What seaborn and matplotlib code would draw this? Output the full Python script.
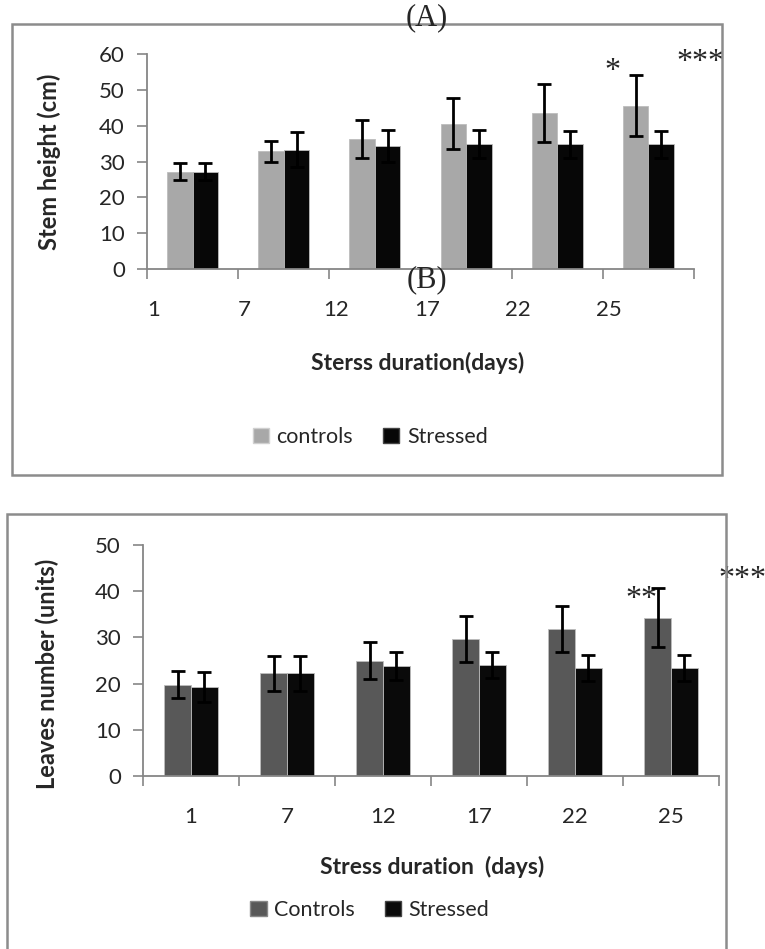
import matplotlib
matplotlib.use("Agg")
import matplotlib.pyplot as plt
from matplotlib.patches import Rectangle, Patch
import pandas as pd
import seaborn as sns

days = ["1", "7", "12", "17", "22", "25"]

# panel A: stem height (cm)
stem_controls = [27.2, 32.8, 36.4, 40.6, 43.6, 45.6]
stem_controls_err = [2.5, 3.0, 5.3, 7.2, 8.1, 8.5]
stem_stressed = [27.2, 33.3, 34.3, 34.8, 34.8, 34.8]
stem_stressed_err = [2.3, 4.9, 4.4, 3.9, 3.7, 3.7]

# panel B: leaves number (units)
leaf_controls = [19.8, 22.2, 24.9, 29.7, 31.9, 34.3]
leaf_controls_err = [2.9, 3.7, 4.0, 5.0, 5.0, 6.3]
leaf_stressed = [19.3, 22.2, 23.8, 24.1, 23.4, 23.4]
leaf_stressed_err = [3.3, 3.7, 3.1, 2.8, 2.8, 2.8]

sns.set_theme(style="ticks")
plt.rcParams["font.family"] = ["Lato", "DejaVu Sans"]

GRID = "#868686"
SERIF = ["Liberation Serif", "DejaVu Serif"]


def _frame(fig, x0, y0, x1, y1):
    # grey box drawn round each panel, pixel coords from top-left
    W, H = 765, 949
    rect = Rectangle((x0 / W, 1 - y1 / H), (x1 - x0) / W, (y1 - y0) / H,
                     transform=fig.transFigure, fill=False,
                     edgecolor="#8c8c8c", linewidth=1.8, clip_on=False)
    fig.add_artist(rect)


def _panel(ax, names, c_vals, c_err, s_vals, s_err, colors, ymax, label_shift):
    df = pd.DataFrame({
        "day": days * 2,
        "value": c_vals + s_vals,
        "group": [names[0]] * 6 + [names[1]] * 6,
    })
    sns.barplot(data=df, x="day", y="value", hue="group", order=days,
                hue_order=names, palette=dict(zip(names, colors)),
                width=0.56, errorbar=None, legend=False, ax=ax,
                edgecolor="#bdbdbd", linewidth=0.6, saturation=1)

    bars = [p for p in ax.patches if p.get_height() > 0]
    errs = c_err + s_err
    xs = [p.get_x() + p.get_width() / 2 for p in bars]
    ys = [p.get_height() for p in bars]
    ax.errorbar(xs, ys, yerr=errs, fmt="none", ecolor="black",
                elinewidth=2.0, capsize=5, capthick=2.0, zorder=5)

    ax.set_xlim(-0.5, 5.5)
    ax.set_ylim(0, ymax)
    ax.set_yticks(range(0, ymax + 1, 10))
    sns.despine(ax=ax)
    for s in ("left", "bottom"):
        ax.spines[s].set_color(GRID)
        ax.spines[s].set_linewidth(1.3)

    ax.set_xticks([i + label_shift for i in range(6)])
    ax.set_xticklabels(days)
    ax.set_xticks([i - 0.5 for i in range(7)], minor=True)
    ax.tick_params(axis="x", which="major", length=0, pad=22, labelsize=16)
    ax.tick_params(axis="x", which="minor", length=7, width=1.2, color=GRID,
                   direction="out")
    ax.tick_params(axis="y", length=7, width=1.2, color=GRID, pad=9,
                   labelsize=16)
    ax.set_xlabel("")


fig = plt.figure(figsize=(7.65, 9.49), dpi=100)

_frame(fig, 12, 24, 722, 475)
_frame(fig, 7, 514, 726, 960)

# ---- panel A
axA = fig.add_axes([147 / 765, 1 - 269 / 949, 547 / 765, 215 / 949])
_panel(axA, ["controls", "Stressed"], stem_controls, stem_controls_err,
       stem_stressed, stem_stressed_err, ["#a8a8a8", "#070707"], 60, -0.43)
axA.set_ylabel("Stem height (cm)", fontsize=17, fontweight="bold")
axA.yaxis.set_label_coords(-0.157, 0.5)
axA.text(0.495, -0.437, "Sterss duration(days)", transform=axA.transAxes,
         ha="center", va="center", fontsize=16.5, fontweight="bold")
axA.legend(handles=[Patch(facecolor="#a8a8a8", edgecolor="#d0d0d0"),
                    Patch(facecolor="#070707", edgecolor="#444444")],
           labels=["controls", "Stressed"], ncol=2, frameon=False,
           loc="center", bbox_to_anchor=(0.408, -0.781), fontsize=15.5,
           handlelength=0.75, handleheight=0.75, handletextpad=0.35,
           columnspacing=1.4)
axA.text(4.61, 55.0, "*", fontsize=23, family=SERIF, ha="center", va="center",
         clip_on=False)
axA.text(5.57, 57.5, "***", fontsize=23, family=SERIF, ha="center",
         va="center", clip_on=False)

# ---- panel B
axB = fig.add_axes([143 / 765, 1 - 776 / 949, 576 / 765, 231 / 949])
_panel(axB, ["Controls", "Stressed"], leaf_controls, leaf_controls_err,
       leaf_stressed, leaf_stressed_err, ["#585858", "#0a0a0a"], 50, 0.0)
axB.set_ylabel("Leaves number (units)", fontsize=17, fontweight="bold")
axB.yaxis.set_label_coords(-0.146, 0.44)
axB.text(0.502, -0.394, "Stress duration  (days)", transform=axB.transAxes,
         ha="center", va="center", fontsize=16.5, fontweight="bold")
axB.legend(handles=[Patch(facecolor="#585858", edgecolor="#888888"),
                    Patch(facecolor="#0a0a0a", edgecolor="#444444")],
           labels=["Controls", "Stressed"], ncol=2, frameon=False,
           loc="center", bbox_to_anchor=(0.394, -0.58), fontsize=15.5,
           handlelength=0.75, handleheight=0.75, handletextpad=0.35,
           columnspacing=1.4)
axB.text(4.69, 38.3, "**", fontsize=23, family=SERIF, ha="center",
         va="center", clip_on=False)
axB.text(5.74, 42.6, "***", fontsize=23, family=SERIF, ha="center",
         va="center", clip_on=False)

fig.text(427 / 765, 1 - 18 / 949, "(A)", fontsize=22, family=SERIF,
         ha="center", va="center")
fig.text(427 / 765, 1 - 280 / 949, "(B)", fontsize=22, family=SERIF,
         ha="center", va="center")

fig.savefig("out.png", dpi=100, facecolor="white")
